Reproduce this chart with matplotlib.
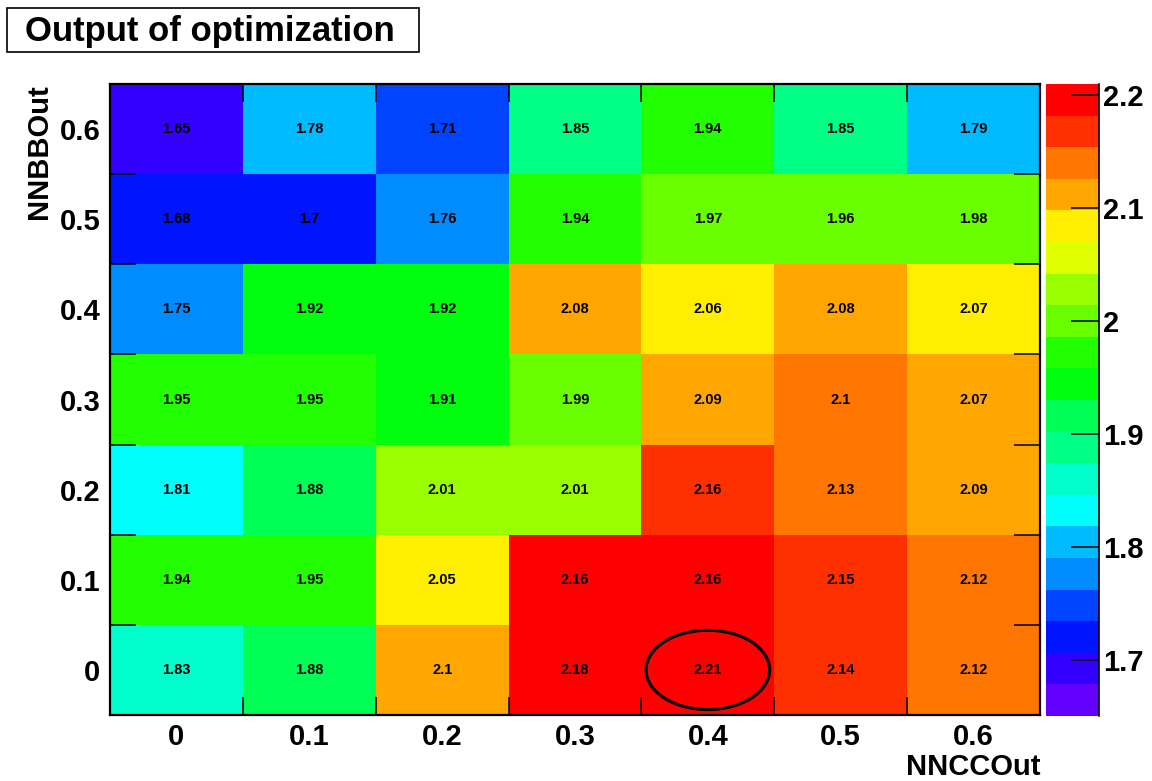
import colorsys
import numpy as np
import matplotlib
matplotlib.use("Agg")
import matplotlib.pyplot as plt
from matplotlib.colors import ListedColormap, BoundaryNorm
from matplotlib.cm import ScalarMappable
from matplotlib.patches import Ellipse, Rectangle

plt.rcParams['font.family'] = ['Liberation Sans', 'DejaVu Sans']
plt.rcParams['font.weight'] = 'bold'

# cut values on the two network outputs
nncc = [0.0, 0.1, 0.2, 0.3, 0.4, 0.5, 0.6]
nnbb = [0.0, 0.1, 0.2, 0.3, 0.4, 0.5, 0.6]

# one row per NNBBOut value (bottom row first)
row_00 = [1.83, 1.88, 2.096, 2.18, 2.21, 2.14, 2.12]
row_01 = [1.94, 1.95, 2.05, 2.164, 2.164, 2.15, 2.12]
row_02 = [1.81, 1.88, 2.01, 2.01, 2.156, 2.126, 2.09]
row_03 = [1.95, 1.95, 1.91, 1.986, 2.09, 2.104, 2.074]
row_04 = [1.75, 1.92, 1.92, 2.08, 2.06, 2.08, 2.066]
row_05 = [1.684, 1.7, 1.76, 1.94, 1.97, 1.964, 1.98]
row_06 = [1.654, 1.78, 1.71, 1.85, 1.94, 1.85, 1.786]

bar_ticks = [1.7, 1.8, 1.9, 2.0, 2.1, 2.2]
zmin, zmax, ncont = 1.65, 2.21, 20

values = np.array([row_00, row_01, row_02, row_03, row_04, row_05, row_06])
x = np.array(nncc)
y = np.array(nnbb)
xedges = np.append(x - 0.05, x[-1] + 0.05)
yedges = np.append(y - 0.05, y[-1] + 0.05)

# ROOT "pretty" palette (SetPalette(1)): 50 hues violet -> red, 20 contours
pretty = [colorsys.hls_to_rgb((280 - (i + 1) * 280 / 50) / 360, 0.5, 1.0) for i in range(50)]
cols = [pretty[int((k + 0.99) * 50 / ncont)] for k in range(ncont)]
cmap = ListedColormap(cols)

bar_levels = np.linspace(zmin, zmax, ncont + 1)
bar_norm = BoundaryNorm(bar_levels, ncont)
# the cells in the original are shifted by about one contour w.r.t. the palette
cell_norm = BoundaryNorm(bar_levels - 0.025, ncont, clip=True)

fig = plt.figure(figsize=(11.52, 7.81), dpi=100)
ax = fig.add_axes([110 / 1152, 66 / 781, 930 / 1152, 631 / 781])
cax = fig.add_axes([1046 / 1152, 65 / 781, 53 / 1152, 632 / 781])

ax.pcolormesh(xedges, yedges, values, cmap=cmap, norm=cell_norm)
for i in range(len(y)):
    for j in range(len(x)):
        ax.text(x[j], y[i], f"{values[i, j]:.3g}", ha='center', va='center',
                fontsize=10.5, fontweight='bold', color='black')

# best point
ax.add_patch(Ellipse((0.4, 0.0), 0.093, 0.088, fill=False, ec='black', lw=2.2))

ax.set_xlim(xedges[0], xedges[-1])
ax.set_ylim(yedges[0], yedges[-1])
ax.set_xticks(x)
ax.set_xticklabels([f"{v:g}" for v in x])
ax.set_yticks(y)
ax.set_yticklabels([f"{v:g}" for v in y])
ax.set_xticks(xedges[1:-1], minor=True)
ax.set_yticks(yedges[1:-1], minor=True)
ax.tick_params(which='major', length=0, labelsize=21)
ax.tick_params(axis='x', which='major', pad=6)
ax.tick_params(axis='y', which='major', pad=7)
ax.tick_params(axis='x', which='minor', direction='in', top=True, bottom=True, length=13, width=1.1)
ax.tick_params(axis='y', which='minor', direction='in', left=True, right=True, length=19, width=1.1)
for s in ax.spines.values():
    s.set_linewidth(1.6)

ax.set_xlabel('NNCCOut', loc='right', fontsize=21, fontweight='bold')
ax.xaxis.set_label_coords(1.0, -0.082)
ax.xaxis.label.set_va('center')
ax.set_ylabel('NNBBOut', loc='top', fontsize=21, fontweight='bold')
ax.yaxis.set_label_coords(-0.076, 1.0)
ax.yaxis.label.set_va('center')

cb = fig.colorbar(ScalarMappable(norm=bar_norm, cmap=cmap), cax=cax, ticks=bar_ticks, format='%g')
cb.minorticks_off()
cb.outline.set_visible(False)
cax.axvline(1.0, color='black', lw=1.2, clip_on=False)
cax.tick_params(which='major', direction='in', length=20, width=1.1, labelsize=21, pad=3)
cax.tick_params(which='minor', length=0)

# title box
fig.patches.append(Rectangle((7 / 1152, 1 - 52 / 781), 412 / 1152, 44 / 781,
                             transform=fig.transFigure, fill=False, ec='black', lw=1.2))
fig.text(25 / 1152, 1 - 31 / 781, 'Output of optimization', ha='left', va='center',
         fontsize=25, fontweight='bold')

fig.savefig('out.png', dpi=100)
